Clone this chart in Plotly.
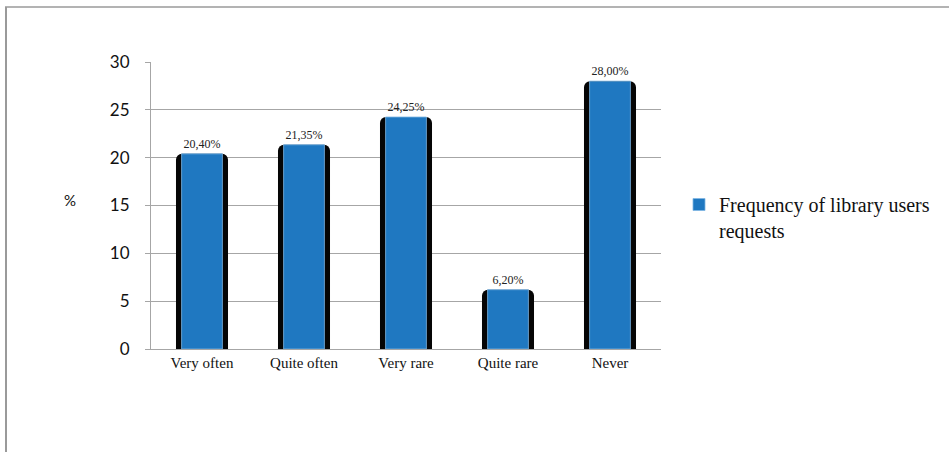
import plotly.graph_objects as go

categories = ["Very often", "Quite often", "Very rare", "Quite rare", "Never"]
values = [20.40, 21.35, 24.25, 6.20, 28.00]
value_labels = ["20,40%", "21,35%", "24,25%", "6,20%", "28,00%"]
series_name = "Frequency of library users<br>requests"
y_ticks = [0, 5, 10, 15, 20, 25, 30]

L, R, T, B = 151, 288, 62, 103
W, H = 949, 452
pw, ph = W - L - R, H - T - B

def px_x(px):
    return (px - L) / pw

def px_y(py):
    return (H - B - py) / ph

grid = "#a6a6a6"

fig = go.Figure()
fig.add_trace(go.Bar(
    x=categories, y=values, width=0.51,
    marker=dict(color="#050505", cornerradius=6, line=dict(width=0)),
    showlegend=False, hoverinfo="skip",
))
fig.add_trace(go.Bar(
    x=categories, y=values, width=0.40, name=series_name,
    marker=dict(color="#1F78C1", line=dict(color="#7fb6e3", width=0.8)),
    text=value_labels, textposition="outside", cliponaxis=False,
    textfont=dict(family="Liberation Serif", size=12, color="#222222"),
))

fig.update_layout(
    width=W, height=H,
    margin=dict(l=L, r=R, t=T, b=B, pad=0),
    barmode="overlay",
    paper_bgcolor="white", plot_bgcolor="white",
    showlegend=True,
    legend=dict(
        x=px_x(679), y=px_y(185), xanchor="left", yanchor="top",
        valign="top", bgcolor="rgba(0,0,0,0)", tracegroupgap=0,
        font=dict(family="Liberation Serif", size=20, color="#111111"),
    ),
    xaxis=dict(
        showgrid=False, showline=True, linecolor=grid, linewidth=1,
        ticks="", tickfont=dict(family="Liberation Serif", size=15, color="#111111"),
        fixedrange=True,
    ),
    yaxis=dict(
        range=[0, 30], tickvals=y_ticks, showgrid=True, gridcolor=grid, gridwidth=1,
        showline=True, linecolor=grid, linewidth=1,
        ticks="outside", ticklen=5, tickcolor=grid,
        ticklabelstandoff=12,
        tickfont=dict(family="Lato", size=17, color="#111111"),
        zeroline=False, fixedrange=True,
    ),
    annotations=[dict(
        text="%", xref="paper", yref="paper", x=px_x(62), y=px_y(200),
        showarrow=False, font=dict(family="Lato", size=15, color="#111111"),
    )],
    shapes=[
        dict(type="line", xref="paper", yref="paper", x0=px_x(5), x1=px_x(949),
             y0=px_y(7), y1=px_y(7), line=dict(color="#9a9a9a", width=1.5)),
        dict(type="line", xref="paper", yref="paper", x0=px_x(6), x1=px_x(6),
             y0=px_y(7), y1=px_y(452), line=dict(color="#9a9a9a", width=2)),
    ],
)

fig.write_html("out.html")
